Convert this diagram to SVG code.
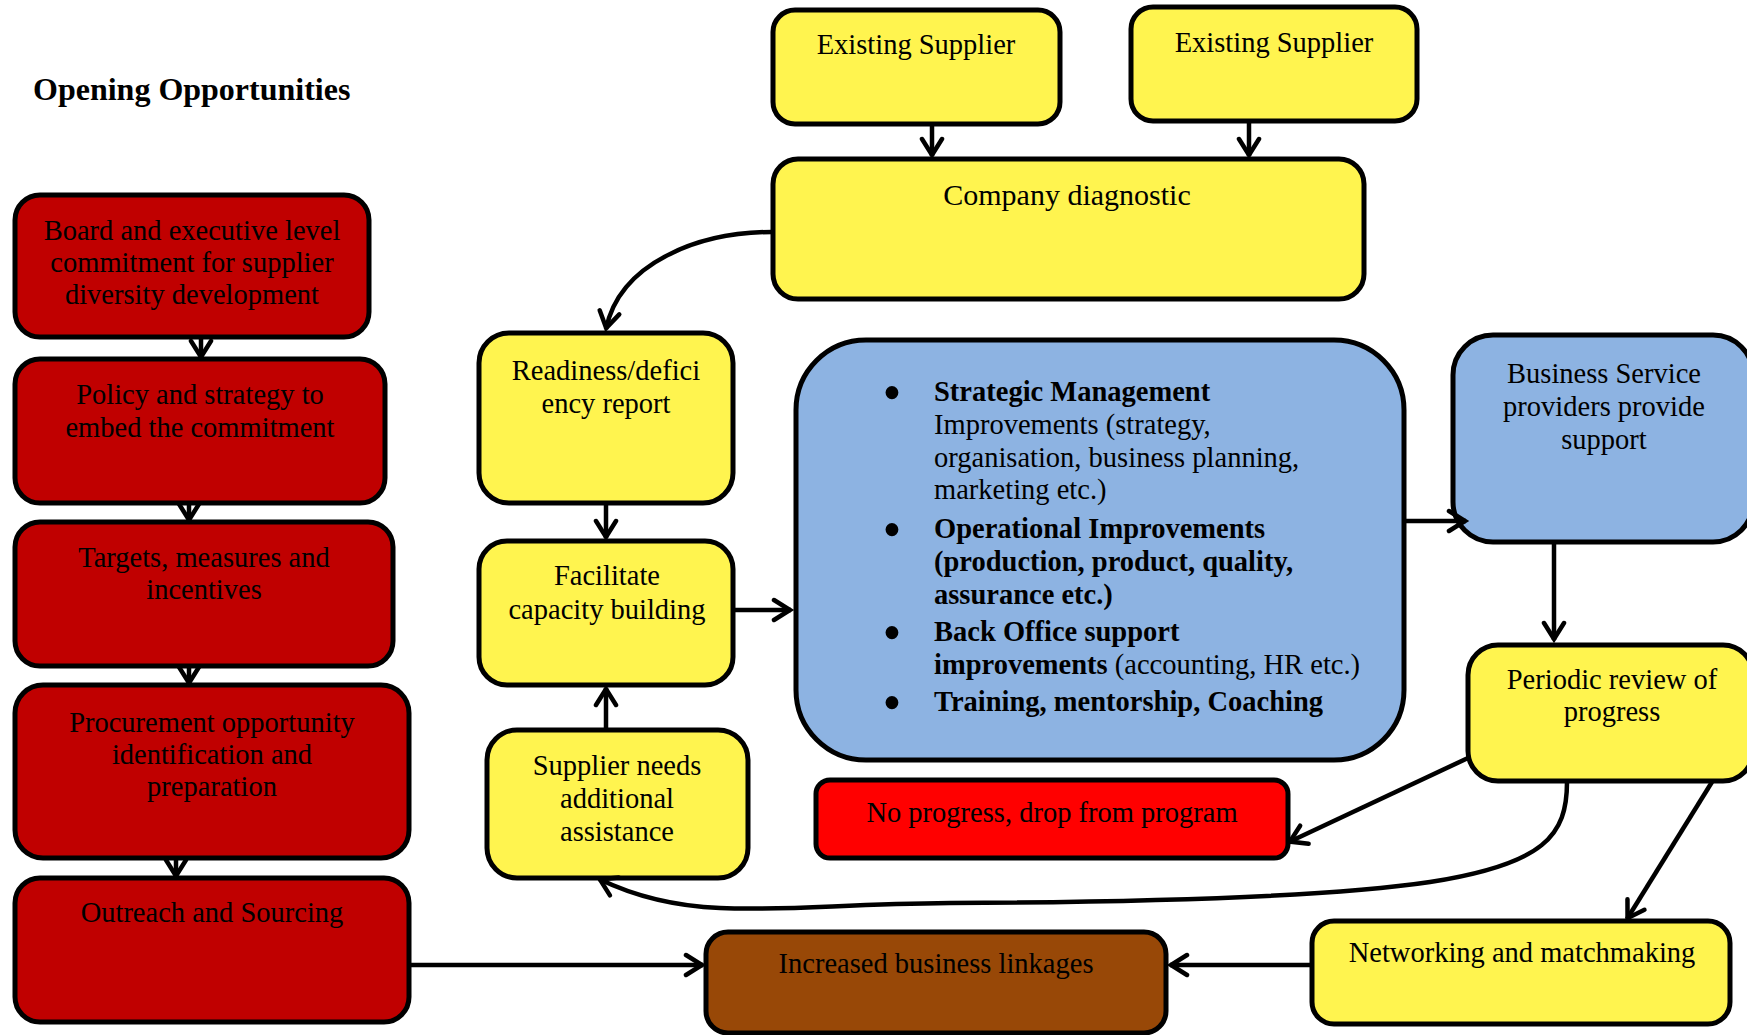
<svg xmlns="http://www.w3.org/2000/svg" width="1747" height="1035" viewBox="0 0 1747 1035">
<style>
.box{stroke:#000;stroke-width:5}
.dr{fill:#C00000}
.ye{fill:#FFF44F}
.bl{fill:#8DB3E2}
.rd{fill:#FF0000}
.br{fill:#984807}
.t{font-family:"Liberation Serif","Times New Roman",serif;font-size:28.5px;fill:#000;text-anchor:middle}
.l{font-family:"Liberation Serif","Times New Roman",serif;font-size:28.5px;fill:#000}
.b{font-weight:bold}
.c{fill:none;stroke:#000;stroke-width:4.5}
</style>
<defs>
<marker id="ah" viewBox="-22 -13 26 26" markerWidth="26" markerHeight="26" refX="0" refY="0" orient="auto" markerUnits="userSpaceOnUse">
<path d="M-17,-10 L-1,0 L-17,10" fill="none" stroke="#000" stroke-width="4.5" stroke-linecap="round"/>
</marker>
</defs>
<rect width="1747" height="1035" fill="#fff"/>
<text x="33" y="100" class="l b" style="font-size:32px">Opening Opportunities</text>

<g id="board"><rect class="box dr" x="15" y="195" width="354" height="142" rx="25"/>
<text class="t"><tspan x="192" y="240">Board and executive level</tspan><tspan x="192" y="272">commitment for supplier</tspan><tspan x="192" y="304">diversity development</tspan></text></g>
<g id="policy"><rect class="box dr" x="15" y="359" width="370" height="144" rx="25"/>
<text class="t"><tspan x="200" y="404">Policy and strategy to</tspan><tspan x="200" y="437">embed the commitment</tspan></text></g>
<g id="targets"><rect class="box dr" x="15" y="522" width="378" height="144" rx="25"/>
<text class="t"><tspan x="204" y="567">Targets, measures and</tspan><tspan x="204" y="599">incentives</tspan></text></g>
<g id="procurement"><rect class="box dr" x="15" y="685" width="394" height="173" rx="28"/>
<text class="t"><tspan x="212" y="732">Procurement opportunity</tspan><tspan x="212" y="764">identification and</tspan><tspan x="212" y="796">preparation</tspan></text></g>
<g id="outreach"><rect class="box dr" x="15" y="878" width="394" height="144" rx="25"/>
<text class="t" x="212" y="922">Outreach and Sourcing</text></g>

<g id="supplier1"><rect class="box ye" x="773" y="10" width="287" height="114" rx="22"/>
<text class="t" x="916" y="54">Existing Supplier</text></g>
<g id="supplier2"><rect class="box ye" x="1131" y="7" width="286" height="114" rx="22"/>
<text class="t" x="1274" y="52">Existing Supplier</text></g>
<g id="diagnostic"><rect class="box ye" x="773" y="159" width="591" height="140" rx="25"/>
<text class="t" x="1067" y="205" style="font-size:30px">Company diagnostic</text></g>
<g id="readiness"><rect class="box ye" x="479" y="333" width="254" height="170" rx="30"/>
<text class="t"><tspan x="606" y="380">Readiness/defici</tspan><tspan x="606" y="413">ency report</tspan></text></g>
<g id="facilitate"><rect class="box ye" x="479" y="541" width="254" height="144" rx="28"/>
<text class="t"><tspan x="607" y="585">Facilitate</tspan><tspan x="607" y="619">capacity building</tspan></text></g>
<g id="needs"><rect class="box ye" x="487" y="730" width="261" height="148" rx="30"/>
<text class="t"><tspan x="617" y="775">Supplier needs</tspan><tspan x="617" y="808">additional</tspan><tspan x="617" y="841">assistance</tspan></text></g>

<g id="improvements"><rect class="box bl" x="796" y="340" width="608" height="420" rx="70"/>
<g class="t" style="font-size:54px"><text x="892" y="411">•</text><text x="892" y="548">•</text><text x="892" y="651">•</text><text x="892" y="721">•</text></g>
<text class="l"><tspan x="934" y="401" class="b">Strategic Management</tspan><tspan x="934" y="434">Improvements (strategy,</tspan><tspan x="934" y="467">organisation, business planning,</tspan><tspan x="934" y="499">marketing etc.)</tspan><tspan x="934" y="538" class="b">Operational Improvements</tspan><tspan x="934" y="571" class="b">(production, product, quality,</tspan><tspan x="934" y="604" class="b">assurance etc.)</tspan><tspan x="934" y="641" class="b">Back Office support</tspan><tspan x="934" y="674" class="b">improvements</tspan><tspan> (accounting, HR etc.)</tspan><tspan x="934" y="711" class="b">Training, mentorship, Coaching</tspan></text></g>

<g id="bsp"><rect class="box bl" x="1453" y="335" width="300" height="207" rx="40"/>
<text class="t"><tspan x="1604" y="383">Business Service</tspan><tspan x="1604" y="416">providers provide</tspan><tspan x="1604" y="449">support</tspan></text></g>
<g id="review"><rect class="box ye" x="1468" y="645" width="285" height="136" rx="30"/>
<text class="t"><tspan x="1612" y="689">Periodic review of</tspan><tspan x="1612" y="721">progress</tspan></text></g>
<g id="drop"><rect class="box rd" x="816" y="780" width="472" height="78" rx="14"/>
<text class="t" x="1052" y="822">No progress, drop from program</text></g>
<g id="networking"><rect class="box ye" x="1312" y="921" width="418" height="103" rx="22"/>
<text class="t" x="1522" y="962">Networking and matchmaking</text></g>
<g id="linkages"><rect class="box br" x="706" y="932" width="460" height="101" rx="22"/>
<text class="t" x="936" y="973">Increased business linkages</text></g>

<g id="connectors">
<line class="c" x1="201" y1="337" x2="201" y2="358" marker-end="url(#ah)"/>
<line class="c" x1="189" y1="503" x2="189" y2="521" marker-end="url(#ah)"/>
<line class="c" x1="189" y1="666" x2="189" y2="684" marker-end="url(#ah)"/>
<line class="c" x1="176" y1="858" x2="176" y2="877" marker-end="url(#ah)"/>
<line class="c" x1="409" y1="965" x2="703" y2="965" marker-end="url(#ah)"/>
<line class="c" x1="932" y1="124" x2="932" y2="156" marker-end="url(#ah)"/>
<line class="c" x1="1249" y1="121" x2="1249" y2="156" marker-end="url(#ah)"/>
<path class="c" d="M772,232 C700,232 620,262 606,329" marker-end="url(#ah)"/>
<line class="c" x1="606" y1="503" x2="606" y2="538" marker-end="url(#ah)"/>
<line class="c" x1="606" y1="732" x2="606" y2="688" marker-end="url(#ah)"/>
<line class="c" x1="733" y1="610" x2="791" y2="610" marker-end="url(#ah)"/>
<line class="c" x1="1404" y1="521" x2="1466" y2="521" marker-end="url(#ah)"/>
<line class="c" x1="1554" y1="542" x2="1554" y2="640" marker-end="url(#ah)"/>
<line class="c" x1="1468" y1="758" x2="1289" y2="842" marker-end="url(#ah)"/>
<line class="c" x1="1712" y1="782" x2="1627" y2="919" marker-end="url(#ah)"/>
<line class="c" x1="1312" y1="965" x2="1170" y2="965" marker-end="url(#ah)"/>
<path class="c" d="M1567,782 C1567,835 1545,864 1430,882 C1330,897 1150,902 950,903 C840,904 790,911 720,908 C670,906 630,894 599,879" marker-end="url(#ah)"/>
</g>
</svg>
